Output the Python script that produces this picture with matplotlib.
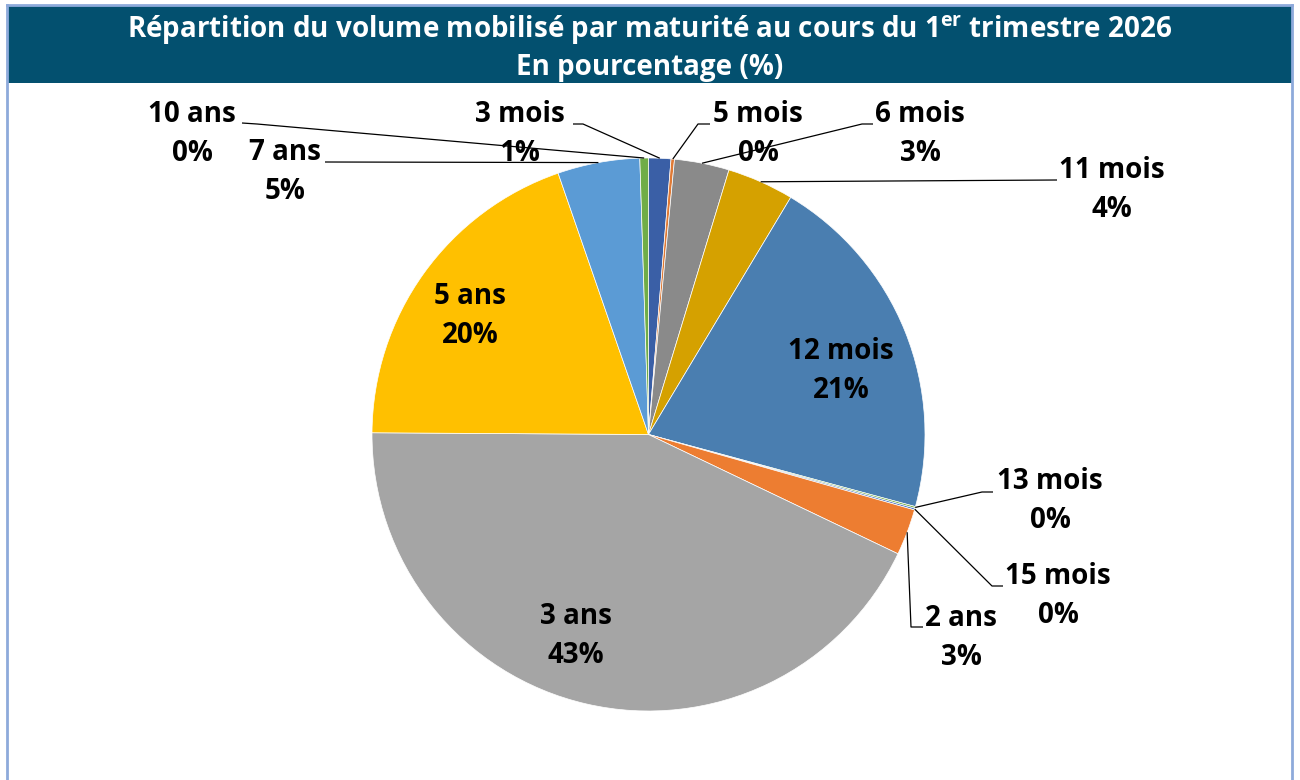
import matplotlib
matplotlib.use("Agg")
import numpy as np
import matplotlib.pyplot as plt
from matplotlib.patches import Rectangle
from matplotlib.lines import Line2D

plt.rcParams['font.family'] = ['Open Sans', 'DejaVu Sans']
plt.rcParams['mathtext.fontset'] = 'custom'
plt.rcParams['mathtext.rm'] = 'Open Sans:bold'
plt.rcParams['mathtext.it'] = 'Open Sans:bold'
plt.rcParams['mathtext.bf'] = 'Open Sans:bold'

# Données (en %)
maturites = ["3 mois", "5 mois", "6 mois", "11 mois", "12 mois", "13 mois",
             "15 mois", "2 ans", "3 ans", "5 ans", "7 ans", "10 ans"]
parts = [1.3, 0.2, 3.2, 3.9, 20.6, 0.1, 0.1, 2.7, 43.0, 19.6, 4.8, 0.5]
couleurs = ["#3A5FA6", "#E07A35", "#8A8A8A", "#D5A100", "#4A7EB0", "#70AD47",
            "#4472C4", "#ED7D31", "#A5A5A5", "#FFC000", "#5B9BD5", "#70AD47"]

titre1 = r"Répartition du volume mobilisé par maturité au cours du 1$^{\mathrm{er}}$ trimestre 2026"
titre2 = "En pourcentage (%)"

W, H = 1300, 780
CX, CY, R = 648.5, 434.5, 276.5   # centre et rayon du camembert en pixels


def px(x, y):
    return ((x - CX) / R, (CY - y) / R)


# position du texte (px) et points de la ligne de rappel (du texte vers le secteur)
placement = {
    "3 mois": ((520, 134), [(573, 124), (583, 124)]),
    "5 mois": ((758, 134), [(710, 124), (698, 124)]),
    "6 mois": ((920, 134), [(873, 124), (862, 124)]),
    "11 mois": ((1112, 190), [(1057, 180)]),
    "12 mois": ((841, 371), None),
    "13 mois": ((1050, 501), [(993, 492), (982, 492)]),
    "15 mois": ((1058, 596), [(1003, 586), (992, 586)]),
    "2 ans": ((961, 638), [(923, 627), (911, 627)]),
    "3 ans": ((576, 636), None),
    "5 ans": ((470, 316), None),
    "7 ans": ((285, 172), [(325, 162)]),
    "10 ans": ((192, 134), [(242, 123), (257, 124)]),
}

fig = plt.figure(figsize=(13, 7.8), dpi=100)
fig.patch.set_facecolor("white")
ax = fig.add_axes([0, 0, 1, 1])
wedges, _ = ax.pie(parts, colors=couleurs, startangle=90, counterclock=False,
                   radius=1, wedgeprops=dict(linewidth=0.5, edgecolor="white"))
ax.set_xlim(-CX / R, (W - CX) / R)
ax.set_ylim(-(H - CY) / R, CY / R)
ax.set_aspect("auto")
ax.axis("off")

for w, nom, p in zip(wedges, maturites, parts):
    (tx, ty), chemin = placement[nom]
    ax.text(*px(tx, ty), f"{nom}\n{round(p):.0f}%", ha="center", va="center",
            fontsize=20, fontweight="bold", color="black", linespacing=1.45)
    if chemin:
        a = np.deg2rad((w.theta1 + w.theta2) / 2)
        pts = [px(x, y) for x, y in chemin] + [(np.cos(a), np.sin(a))]
        xs, ys = zip(*pts)
        ax.plot(xs, ys, color="black", lw=0.9, solid_capstyle="butt")

# bandeau de titre et cadre
fig.patches.append(Rectangle((8 / W, 1 - 83 / H), 1284 / W, 77 / H,
                             transform=fig.transFigure, facecolor="#03506F",
                             edgecolor="none", zorder=0))
bord = "#8EAADB"
for xs, ys in [([7, 7], [5, 780]), ([7, 1292], [5, 5]), ([1292, 1292], [5, 780])]:
    fig.lines.append(Line2D([x / W for x in xs], [1 - y / H for y in ys],
                            transform=fig.transFigure, color=bord, lw=2))

fig.text(650 / W, 1 - 30 / H, titre1, ha="center", va="center", color="white",
         fontsize=20, fontweight="bold")
fig.text(650 / W, 1 - 68 / H, titre2, ha="center", va="center", color="white",
         fontsize=20, fontweight="bold")

fig.savefig("out.png", dpi=100)
